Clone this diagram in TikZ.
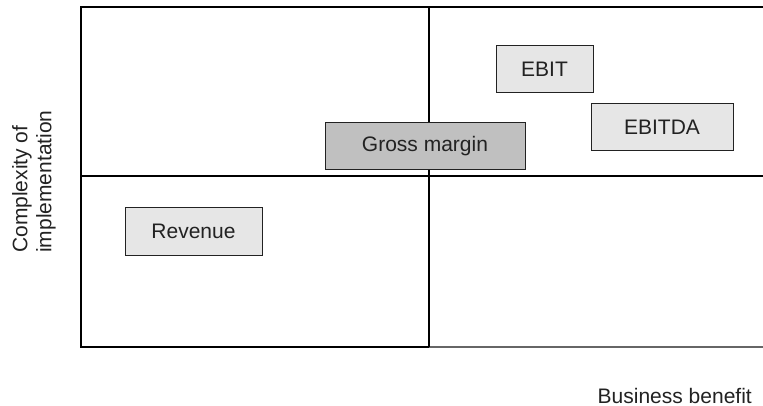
\documentclass[tikz,border=0pt]{standalone}
\usepackage{fontspec}
\setmainfont{Liberation Sans}
\definecolor{boxlight}{HTML}{E6E6E6}
\definecolor{boxdark}{HTML}{C0C0C0}
\definecolor{inkgray}{HTML}{222222}
\begin{document}
\begin{tikzpicture}[x=1pt,y=-1pt,
    kpi/.style={draw=inkgray,line width=1pt,fill=boxlight,minimum height=47pt,
      inner sep=0pt,font=\fontsize{21}{24}\selectfont,text=inkgray},
    axislabel/.style={inner sep=0pt,font=\fontsize{21}{24}\selectfont,text=inkgray}]
    \useasboundingbox (0,0) rectangle (763,406);
    % Draw quadrants
    \draw[line width=1.6pt] (763,7) -- (81,7) -- (81,347) -- (429,347);
    \draw[line width=1.6pt,black!60] (429,347) -- (763,347);
    \draw[line width=1.6pt] (81,176) -- (763,176);
    \draw[line width=1.6pt] (429,7) -- (429,347);
    % Metrics
    \node[kpi,minimum width=137pt] (revenue) at (193.5,231.5) {Revenue};
    \node[kpi,minimum width=200pt,fill=boxdark] (grossmargin) at (425,146.5) {Gross margin};
    \node[kpi,minimum width=97pt] (ebit) at (544.5,69.5) {EBIT};
    \node[kpi,minimum width=142pt] (ebitda) at (662,127.5) {EBITDA};
    % Axis labels
    \node[axislabel,rotate=90,align=left,anchor=west] (complexity) at (34,253)
      {Complexity of\\implementation};
    \node[axislabel,anchor=base east] (benefit) at (752,403) {Business benefit};
\end{tikzpicture}
\end{document}
